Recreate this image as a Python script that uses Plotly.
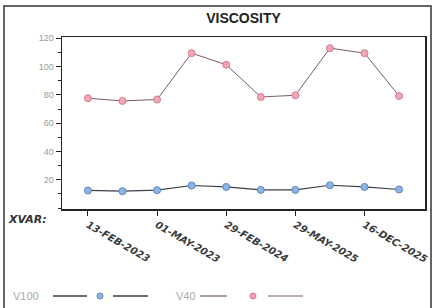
import plotly.graph_objects as go

# ---- data ----
sample_index = [0, 1, 2, 3, 4, 5, 6, 7, 8, 9]
v100 = [12.4, 11.9, 12.6, 15.9, 14.9, 12.8, 12.8, 16.1, 14.9, 13.1]
v40 = [77.6, 75.7, 76.7, 109.5, 101.3, 78.5, 79.7, 113.0, 109.5, 79.2]
tick_positions = [0, 2, 4, 6, 8]
tick_labels = ["13-FEB-2023", "01-MAY-2023", "29-FEB-2024", "29-MAY-2025", "16-DEC-2025"]
y_ticks = [20, 40, 60, 80, 100, 120]

W, H = 434, 308
L, R, T, B = 62, 425, 37, 209


def px(x):
    return (x - L) / (R - L)


def py(y):
    return (B - y) / (B - T)


fig = go.Figure()
fig.add_trace(go.Scatter(
    x=sample_index, y=v100, mode="lines+markers", name="V100", showlegend=False,
    line=dict(color="#3a3f4a", width=1.2),
    marker=dict(symbol="circle", size=7, color="#8db4e2", line=dict(color="#5a86c0", width=1)),
))
fig.add_trace(go.Scatter(
    x=sample_index, y=v40, mode="lines+markers", name="V40", showlegend=False,
    line=dict(color="#7a5a72", width=1),
    marker=dict(symbol="circle", size=7, color="#f2a6b4", line=dict(color="#d77a8e", width=1)),
))

shapes = []
# outer border
shapes.append(dict(type="rect", xref="paper", yref="paper",
                   x0=px(4), x1=px(431), y0=py(310), y1=py(6),
                   line=dict(color="#333333", width=1.5), layer="below"))
# custom legend
leg_y = py(296)
for (x0, x1, col, w) in [(53, 87, "#3a3f4a", 1.5), (113, 148, "#3a3f4a", 1.5),
                         (200, 227, "#7a5a72", 1.2), (268, 303, "#7a5a72", 1.2)]:
    shapes.append(dict(type="line", xref="paper", yref="paper",
                       x0=px(x0), x1=px(x1), y0=leg_y, y1=leg_y,
                       line=dict(color=col, width=w)))
for (cx, fill, edge) in [(100, "#8db4e2", "#5a86c0"), (253, "#f2a6b4", "#d77a8e")]:
    shapes.append(dict(type="circle", xref="paper", yref="paper",
                       x0=px(cx - 3), x1=px(cx + 3), y0=py(296 + 3), y1=py(296 - 3),
                       fillcolor=fill, line=dict(color=edge, width=1)))

annotations = [
    dict(text="<b><i>XVAR:</i></b>", xref="paper", yref="paper", x=px(6), y=py(219),
         xanchor="left", yanchor="middle", showarrow=False,
         font=dict(family="DejaVu Sans", size=11, color="#333333")),
    dict(text="V100", xref="paper", yref="paper", x=px(11), y=leg_y,
         xanchor="left", yanchor="middle", showarrow=False,
         font=dict(family="Arial", size=11, color="#aaaaaa")),
    dict(text="V40", xref="paper", yref="paper", x=px(174), y=leg_y,
         xanchor="left", yanchor="middle", showarrow=False,
         font=dict(family="Arial", size=11, color="#aaaaaa")),
]

fig.update_layout(
    width=W, height=H,
    margin=dict(l=L, r=W - R, t=T, b=H - B, pad=0, autoexpand=False),
    paper_bgcolor="white", plot_bgcolor="white",
    title=dict(text="<b>VISCOSITY</b>", x=(L + R) / 2 / W, xanchor="center",
               y=1 - 18 / H, yanchor="middle",
               font=dict(family="Arial", size=14, color="#222222")),
    xaxis=dict(range=[-0.75, 9.75], tickmode="array", tickvals=tick_positions,
               ticktext=tick_labels, tickangle=30, ticks="outside", ticklen=5,
               tickcolor="#222222", showline=True, linecolor="#222222", linewidth=1.5,
               mirror=True, showgrid=False, zeroline=False, automargin=False,
               tickfont=dict(family="DejaVu Sans", size=10, color="#3a3a3a",
                             style="italic", weight="bold")),
    yaxis=dict(range=[-0.7, 120.9], tickmode="array", tickvals=y_ticks,
               ticks="outside", ticklen=5, tickcolor="#222222", automargin=False,
               minor=dict(dtick=10, tick0=0, ticks="outside", ticklen=3, tickcolor="#222222"),
               showline=True, linecolor="#222222", linewidth=1.5, mirror=True,
               showgrid=False, zeroline=False,
               tickfont=dict(family="Arial", size=9, color="#9a9a9a")),
    shapes=shapes,
    annotations=annotations,
)

fig.write_html("out.html", config={"displayModeBar": False, "staticPlot": True},
               post_script="document.body.style.margin='0';document.body.style.overflow='hidden';")
